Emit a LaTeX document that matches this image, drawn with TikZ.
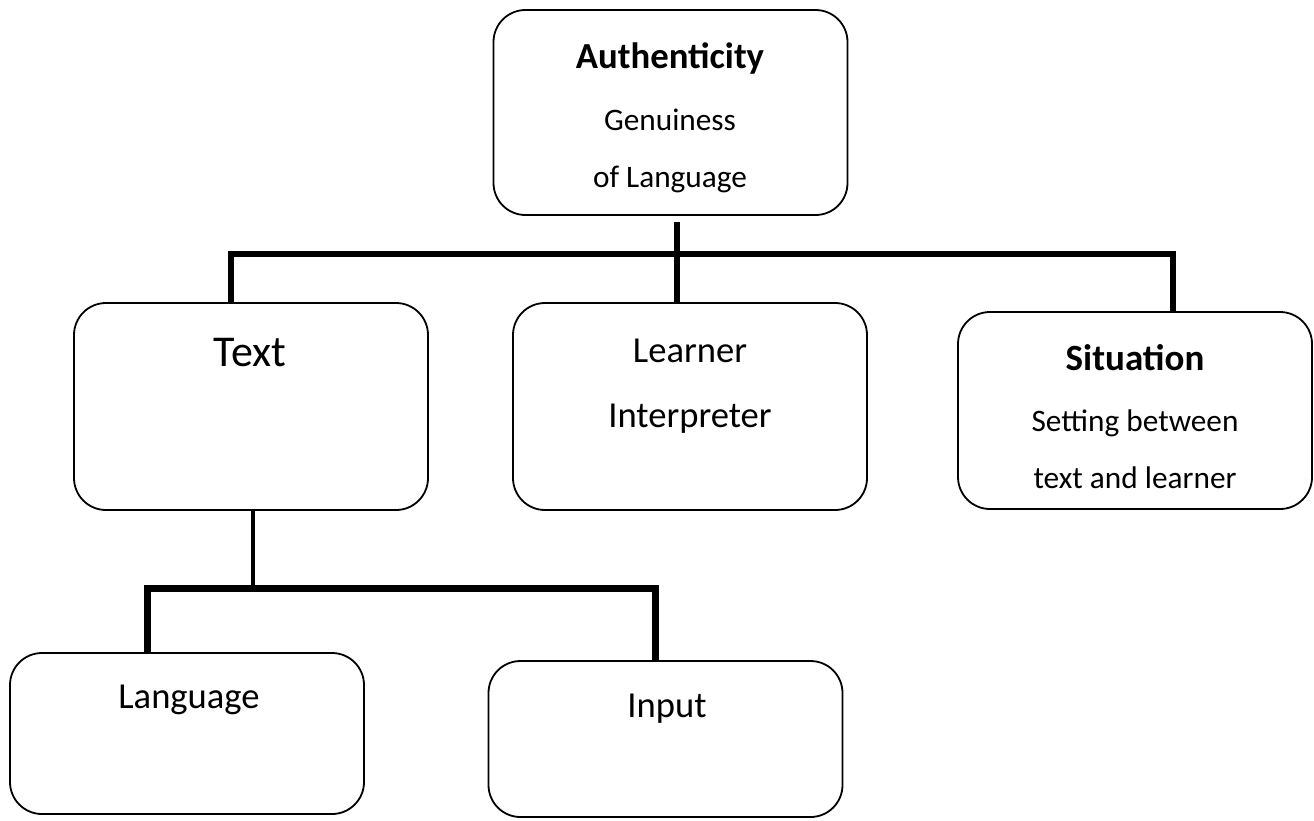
\documentclass[tikz,border=0pt]{standalone}
\usepackage{fontspec}
\setmainfont{Carlito}
\usepackage{tikz}
\usetikzlibrary{positioning,calc}

\begin{document}
\begin{tikzpicture}[
    x=1pt, y=-1pt,
    box/.style={rectangle, draw, line width=1.8pt, rounded corners=32pt, minimum width=354pt, inner sep=0pt},
    lbl/.style={align=center, anchor=base, inner sep=0pt, font=\fontsize{31.3}{57}\selectfont},
    big/.style={lbl, font=\fontsize{36.6}{65}\selectfont},
    bar/.style={line width=6.5pt},
    stem/.style={line width=4.5pt}
]
    \useasboundingbox (0,0) rectangle (1314,820);

    % boxes
    \node[box, minimum height=205pt] (auth) at (670.5,112.5) {};
    \node[box, minimum height=207pt] (text) at (251,406.5) {};
    \node[box, minimum height=207pt] (learner) at (690,406.5) {};
    \node[box, minimum height=197pt] (situation) at (1135,410.5) {};
    \node[box, minimum height=161pt] (language) at (187,733.5) {};
    \node[box, minimum height=156pt] (input) at (665.5,739) {};

    % labels (base = last line)
    \node[lbl] (authlbl) at (670,187) {{\bfseries\fontsize{36.7}{57}\selectfont Authenticity}\\[5pt]Genuiness\\of Language};
    \node[lbl, font=\fontsize{44}{50}\selectfont] (textlbl) at (250,366) {Text};
    \node[big] (learnerlbl) at (690,427) {Learner\\Interpreter};
    \node[lbl] (situationlbl) at (1135,488) {{\bfseries\fontsize{37}{57}\selectfont Situation}\\[4pt]Setting between\\text and learner};
    \node[big] (languagelbl) at (189,708) {Language};
    \node[big] (inputlbl) at (667,717) {Input};

    % upper tree
    \coordinate (fork) at (677,254);
    \coordinate (trunk) at ([xshift=6.5pt,yshift=-6pt]auth.south);
    \draw[bar] (trunk) -- (trunk |- learner.north);
    \draw[bar] ([xshift=-20pt]text.north) |- (fork) -| ([xshift=38pt]situation.north);

    % lower tree
    \coordinate (split) at (253,588);
    \draw[stem] ([xshift=2pt]text.south) -- (split);
    \draw[bar, line width=7pt] ([xshift=-40pt]language.north) |- (split) -| ([xshift=-10.5pt]input.north);
\end{tikzpicture}
\end{document}
